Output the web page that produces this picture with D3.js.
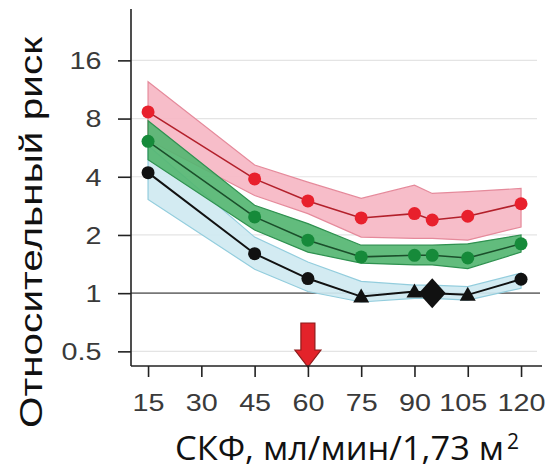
<!DOCTYPE html>
<html>
<head>
<meta charset="utf-8">
<script src="https://cdn.jsdelivr.net/npm/d3@7"></script>
<style>
  html, body { margin: 0; padding: 0; background: #fff; }
  svg { display: block; }
</style>
</head>
<body>
<svg id="chart" width="554" height="469"></svg>
<script>
// GFR categories (ml/min/1.73 m2)
const gfr = [15, 45, 60, 75, 90, 95, 105, 120];

// Upper series (red) with its confidence band
const redRisk = [8.66, 3.9, 3.0, 2.45, 2.58, 2.39, 2.5, 2.9];
const redLow  = [6.2, 3.2, 2.58, 1.95, 1.92, 1.92, 1.88, 2.2];
const redHigh = [12.4, 4.6, 3.75, 3.09, 3.62, 3.28, 3.35, 3.48];

// Middle series (green)
const greenRisk = [6.1, 2.48, 1.88, 1.54, 1.57, 1.57, 1.52, 1.8];
const greenLow  = [4.9, 2.12, 1.63, 1.43, 1.4, 1.4, 1.34, 1.63];
const greenHigh = [7.8, 2.85, 2.29, 1.77, 1.77, 1.77, 1.8, 2.0];

// Lower series (black points, light blue band)
const blackRisk = [4.2, 1.6, 1.19, 0.96, 1.02, 1.0, 0.98, 1.18];
const blueLow   = [3.05, 1.33, 1.02, 0.9, 0.94, 0.94, 0.92, 1.06];
const blueHigh  = [5.8, 1.95, 1.45, 1.15, 1.1, 1.1, 1.08, 1.27];
const blackShape = ["circle", "circle", "circle", "triangle", "triangle", "diamond", "triangle", "circle"];

// Axis ticks and labels
const xTicks = [15, 30, 45, 60, 75, 90, 105, 120];
const yTicks = [0.5, 1, 2, 4, 8, 16];
const yTickLabels = ["0.5", "1", "2", "4", "8", "16"];
const gridLevels = [0.5, 2, 4, 8, 16];
const refLevel = 1;
const arrowAt = 60;
const xTitle = "СКФ, мл/мин/1,73 м";
const xTitleSup = "2";
const yTitle = "Относительный  риск";

const svg = d3.select("#chart");

const x = d3.scaleLinear().domain([10.2, 125.9]).range([131, 542]);
const y = d3.scaleLog().base(2).domain([0.42, 29.5]).range([366, 9]);

// light horizontal gridlines
svg.append("g").selectAll("line").data(gridLevels).join("line")
  .attr("x1", x.range()[0]).attr("x2", 537)
  .attr("y1", d => y(d)).attr("y2", d => y(d))
  .attr("stroke", "#e4e4e4").attr("stroke-width", 1.2);

// reference line at relative risk 1
svg.append("line")
  .attr("x1", x.range()[0]).attr("x2", 540)
  .attr("y1", y(refLevel)).attr("y2", y(refLevel))
  .attr("stroke", "#777").attr("stroke-width", 1.6);

function band(lo, hi) {
  const rows = gfr.map((g, i) => ({ g, lo: lo[i], hi: hi[i] }));
  return d3.area().x(d => x(d.g)).y0(d => y(d.lo)).y1(d => y(d.hi))(rows);
}

// confidence bands
svg.append("path").attr("d", band(redLow, redHigh))
  .attr("fill", "#f6b7c4").attr("fill-opacity", 0.92)
  .attr("stroke", "#e58a9b").attr("stroke-width", 1.2);
svg.append("path").attr("d", band(blueLow, blueHigh))
  .attr("fill", "#cfe9f1").attr("fill-opacity", 0.92)
  .attr("stroke", "#93cddd").attr("stroke-width", 1.2);
svg.append("path").attr("d", band(greenLow, greenHigh))
  .attr("fill", "#55b672").attr("fill-opacity", 0.92)
  .attr("stroke", "#2f9150").attr("stroke-width", 1.2);

const line = d3.line().x(d => x(d.g)).y(d => y(d.v));
const rowsOf = vals => gfr.map((g, i) => ({ g, v: vals[i], i }));

// series lines
svg.append("path").attr("d", line(rowsOf(redRisk)))
  .attr("fill", "none").attr("stroke", "#b3202b").attr("stroke-width", 1.6);
svg.append("path").attr("d", line(rowsOf(greenRisk)))
  .attr("fill", "none").attr("stroke", "#1b4f2b").attr("stroke-width", 1.6);
svg.append("path").attr("d", line(rowsOf(blackRisk)))
  .attr("fill", "none").attr("stroke", "#111").attr("stroke-width", 2);

// points
svg.append("g").selectAll("circle").data(rowsOf(redRisk)).join("circle")
  .attr("cx", d => x(d.g)).attr("cy", d => y(d.v)).attr("r", 6.5)
  .attr("fill", "#e8202c");
svg.append("g").selectAll("circle").data(rowsOf(greenRisk)).join("circle")
  .attr("cx", d => x(d.g)).attr("cy", d => y(d.v)).attr("r", 6.5)
  .attr("fill", "#168a3a");

const blackG = svg.append("g");
rowsOf(blackRisk).forEach(d => {
  const cx = x(d.g), cy = y(d.v), s = blackShape[d.i];
  if (s === "circle") {
    blackG.append("circle").attr("cx", cx).attr("cy", cy).attr("r", 6.5).attr("fill", "#111");
  } else if (s === "triangle") {
    blackG.append("path")
      .attr("d", `M${cx},${cy - 8}L${cx + 8},${cy + 6}L${cx - 8},${cy + 6}Z`)
      .attr("fill", "#111");
  } else {
    blackG.append("path")
      .attr("d", `M${cx},${cy - 15}L${cx + 13.5},${cy}L${cx},${cy + 15}L${cx - 13.5},${cy}Z`)
      .attr("fill", "#111");
  }
});

// arrow marking GFR 60
const ax = x(arrowAt), tip = y.range()[0] + 1;
svg.append("path")
  .attr("d", `M${ax - 7},${tip - 44}L${ax + 7},${tip - 44}L${ax + 7},${tip - 17}L${ax + 13},${tip - 17}` +
             `L${ax},${tip}L${ax - 13},${tip - 17}L${ax - 7},${tip - 17}Z`)
  .attr("fill", "#e3232a").attr("stroke", "#8e1b1b").attr("stroke-width", 1.2);

// axes
const sx = 1.25;
const xAxis = svg.append("g").attr("transform", `translate(0,${y.range()[0]})`)
  .call(d3.axisBottom(x).tickValues(xTicks).tickSize(11).tickSizeOuter(0).tickPadding(0));
xAxis.select(".domain").attr("d", `M${x.range()[0]},0H${x.range()[1]}`)
  .attr("stroke", "#222").attr("stroke-width", 1.6);
xAxis.selectAll(".tick line").attr("stroke", "#222").attr("stroke-width", 1.6);
xAxis.selectAll(".tick text")
  .attr("y", 45.5).attr("dy", null)
  .attr("x", d => (d === 105 ? -5 : 0) / sx)
  .attr("transform", `scale(${sx},1)`)
  .attr("font-family", "Liberation Sans, Arial, sans-serif")
  .attr("font-size", 23).attr("fill", "#3a3a3a");

const yAxis = svg.append("g").attr("transform", `translate(${x.range()[0]},0)`)
  .call(d3.axisLeft(y).tickValues(yTicks).tickSize(13).tickSizeOuter(0)
    .tickFormat((d, i) => yTickLabels[i]));
yAxis.select(".domain").attr("d", `M0,${y.range()[0]}V${y.range()[1]}`)
  .attr("stroke", "#222").attr("stroke-width", 1.6);
yAxis.selectAll(".tick line").attr("stroke", "#222").attr("stroke-width", 1.6);
yAxis.selectAll(".tick text")
  .attr("x", -29.5 / sx).attr("dy", "0.36em")
  .attr("transform", `scale(${sx},1)`)
  .attr("font-family", "Liberation Sans, Arial, sans-serif")
  .attr("font-size", 23).attr("fill", "#3a3a3a");

// axis titles
const xt = svg.append("text")
  .attr("x", 175).attr("y", 460)
  .attr("font-family", "Open Sans, Lato, sans-serif")
  .attr("font-size", 32).attr("fill", "#111");
xt.append("tspan").text(xTitle).attr("textLength", 329).attr("lengthAdjust", "spacingAndGlyphs");
xt.append("tspan").text(xTitleSup).attr("x", 507).attr("y", 449).attr("font-size", 21);

svg.append("text")
  .attr("transform", "translate(42,428) rotate(-90)")
  .attr("font-family", "Liberation Sans, Arial, sans-serif")
  .attr("font-size", 32).attr("fill", "#111")
  .attr("textLength", 391).attr("lengthAdjust", "spacingAndGlyphs")
  .text(yTitle);
</script>
</body>
</html>
